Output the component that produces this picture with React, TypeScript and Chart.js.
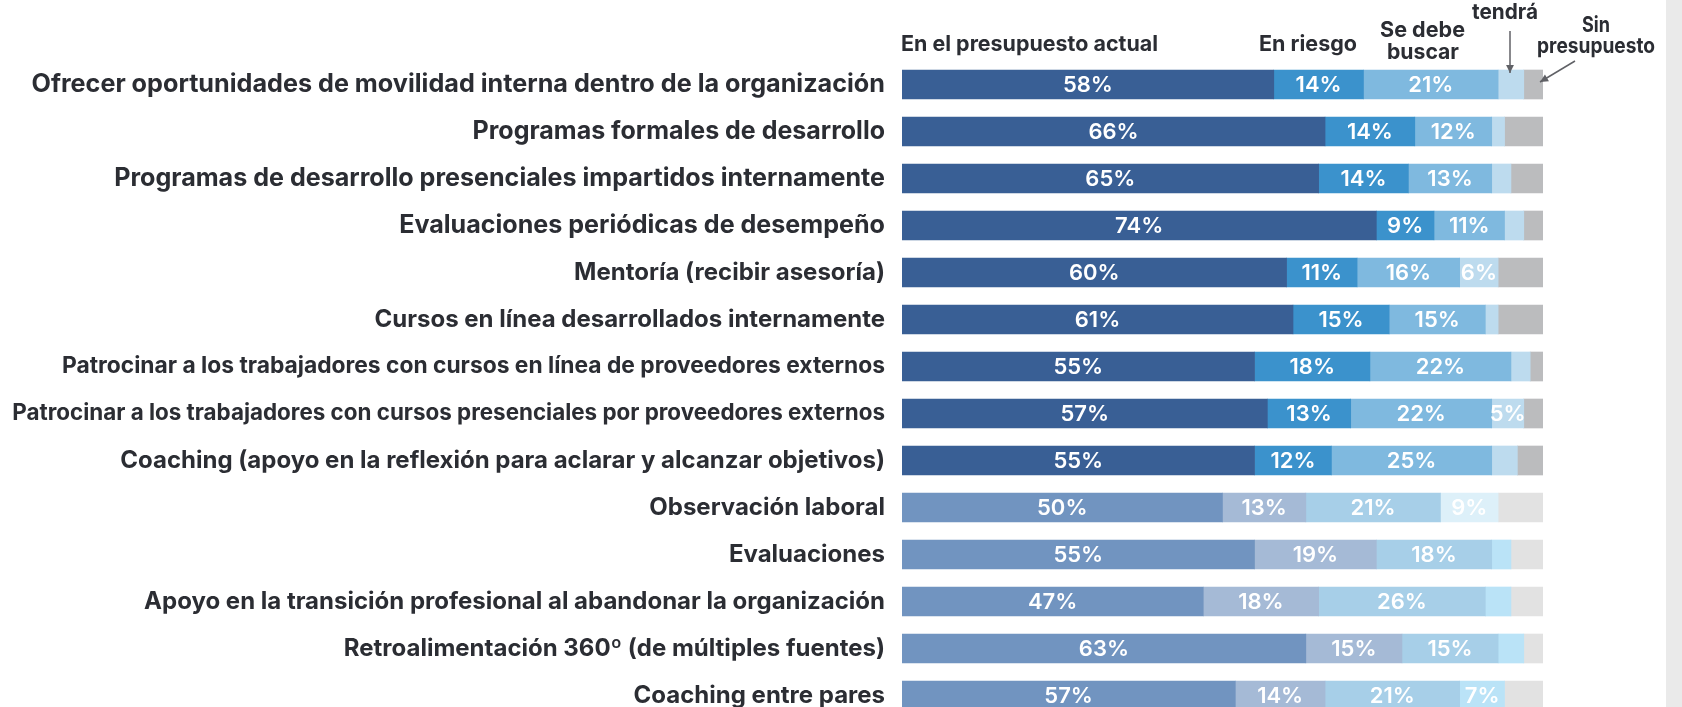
import React, { useEffect, useRef } from "react";
import { Chart, registerables } from "chart.js";

Chart.register(...registerables);

const categorias = [
  "Ofrecer oportunidades de movilidad interna dentro de la organización",
  "Programas formales de desarrollo",
  "Programas de desarrollo presenciales impartidos internamente",
  "Evaluaciones periódicas de desempeño",
  "Mentoría (recibir asesoría)",
  "Cursos en línea desarrollados internamente",
  "Patrocinar a los trabajadores con cursos en línea de proveedores externos",
  "Patrocinar a los trabajadores con cursos presenciales por proveedores externos",
  "Coaching (apoyo en la reflexión para aclarar y alcanzar objetivos)",
  "Observación laboral",
  "Evaluaciones",
  "Apoyo en la transición profesional al abandonar la organización",
  "Retroalimentación 360º (de múltiples fuentes)",
  "Coaching entre pares",
];

// grupo 1 = tonos intensos, grupo 2 = tonos suaves
const grupo = [1, 1, 1, 1, 1, 1, 1, 1, 1, 2, 2, 2, 2, 2];

const enPresupuesto = [58, 66, 65, 74, 60, 61, 55, 57, 55, 50, 55, 47, 63, 52];
const enRiesgo = [14, 14, 14, 9, 11, 15, 18, 13, 12, 13, 19, 18, 15, 14];
const seDebeBuscar = [21, 12, 13, 11, 16, 15, 22, 22, 25, 21, 18, 26, 15, 21];
const tendra = [4, 2, 3, 3, 6, 2, 3, 5, 4, 9, 3, 4, 4, 7];
const sinPresupuesto = [3, 6, 5, 3, 7, 7, 2, 3, 4, 7, 5, 5, 3, 6];

// Etiquetas tal como aparecen impresas
const etqPresupuesto = ["58%", "66%", "65%", "74%", "60%", "61%", "55%", "57%", "55%", "50%", "55%", "47%", "63%", "57%"];
const etqRiesgo = ["14%", "14%", "14%", "9%", "11%", "15%", "18%", "13%", "12%", "13%", "19%", "18%", "15%", "14%"];
const etqBuscar = ["21%", "12%", "13%", "11%", "16%", "15%", "22%", "22%", "25%", "21%", "18%", "26%", "15%", "21%"];
const etqTendra = ["", "", "", "", "6%", "", "", "5%", "", "9%", "", "", "", "7%"];
const etqSin = ["", "", "", "", "", "", "", "", "", "", "", "", "", ""];

// estilo
const tamCategoria = [25.2, 25, 25.1, 25.1, 24, 24, 22.8, 22.4, 24, 24, 24, 24, 24, 24];
const coloresPresupuesto = { 1: "#395f95", 2: "#7194c0" };
const coloresRiesgo = { 1: "#3b92cc", 2: "#a5bad6" };
const coloresBuscar = { 1: "#7fb9df", 2: "#a7cfe8" };
const coloresTendra1 = "#bddbee";
const coloresTendra2 = ["#ddf0f9", "#bae3f7", "#bae3f7", "#bae3f7", "#bae3f7"];
const coloresSin = { 1: "#bbbcbe", 2: "#e2e2e2" };

const TXT = "#2b2d33";
const FONT = "Inter, 'Noto Sans', sans-serif";

const labelsPlugin = {
  id: "valueLabels",
  afterDatasetsDraw(chart: any) {
    const ctx = chart.ctx;
    ctx.save();
    ctx.font = `600 22px ${FONT}`;
    ctx.fillStyle = "#ffffff";
    ctx.textAlign = "center";
    ctx.textBaseline = "middle";
    chart.data.datasets.forEach((ds: any, di: number) => {
      const meta = chart.getDatasetMeta(di);
      meta.data.forEach((bar: any, i: number) => {
        const t = ds.etiquetas[i];
        if (!t) return;
        const cx = (bar.x + bar.base) / 2;
        ctx.fillText(t, cx, bar.y + 1);
      });
    });
    ctx.restore();
  },
};

function arrow(ctx: any, x1: number, y1: number, x2: number, y2: number) {
  ctx.beginPath();
  ctx.moveTo(x1, y1);
  ctx.lineTo(x2, y2);
  ctx.stroke();
  const a = Math.atan2(y2 - y1, x2 - x1);
  const L = 9;
  const w = 0.45;
  ctx.beginPath();
  ctx.moveTo(x2, y2);
  ctx.lineTo(x2 - L * Math.cos(a - w), y2 - L * Math.sin(a - w));
  ctx.lineTo(x2 - L * Math.cos(a + w), y2 - L * Math.sin(a + w));
  ctx.closePath();
  ctx.fill();
}

function fitText(ctx: any, t: string, left: number, base: number, w: number) {
  const m = ctx.measureText(t).width;
  ctx.save();
  ctx.translate(left, base);
  ctx.scale(w / m, 1);
  ctx.fillText(t, 0, 0);
  ctx.restore();
}

const headerPlugin = {
  id: "headers",
  afterDraw(chart: any) {
    const ctx = chart.ctx;
    const x0 = chart.scales.x.getPixelForValue(0);
    ctx.save();
    ctx.fillStyle = TXT;
    ctx.font = `700 21.5px ${FONT}`;
    ctx.textBaseline = "alphabetic";
    ctx.textAlign = "left";
    fitText(ctx, "En el presupuesto actual", x0 - 1, 51, 257);
    fitText(ctx, "En riesgo", x0 + 357, 51, 98);
    fitText(ctx, "Se debe", x0 + 478, 37, 85);
    fitText(ctx, "buscar", x0 + 485, 59, 72);
    fitText(ctx, "tendrá", x0 + 570, 19, 66);
    fitText(ctx, "Sin", x0 + 680, 32, 28);
    fitText(ctx, "presupuesto", x0 + 635, 53, 118);
    ctx.strokeStyle = "#606166";
    ctx.fillStyle = "#606166";
    ctx.lineWidth = 1.5;
    arrow(ctx, x0 + 608, 31, x0 + 608, 73);
    arrow(ctx, x0 + 673, 61, x0 + 638, 82);
    ctx.restore();
  },
};

export default function App() {
  const ref = useRef<HTMLCanvasElement | null>(null);

  useEffect(() => {
    if (!ref.current) return;
    const ds = (
      label: string,
      data: number[],
      etiquetas: string[],
      colors: string[]
    ) => ({
      label,
      data,
      etiquetas,
      backgroundColor: colors,
      borderWidth: 0,
      barThickness: 29,
    });
    let k2 = 0;
    const tendraColors = grupo.map((g) => (g === 1 ? coloresTendra1 : coloresTendra2[k2++]));
    const chart = new Chart(ref.current, {
      type: "bar",
      data: {
        labels: categorias,
        datasets: [
          ds("En el presupuesto actual", enPresupuesto, etqPresupuesto, grupo.map((g) => (coloresPresupuesto as any)[g])),
          ds("En riesgo", enRiesgo, etqRiesgo, grupo.map((g) => (coloresRiesgo as any)[g])),
          ds("Se debe buscar", seDebeBuscar, etqBuscar, grupo.map((g) => (coloresBuscar as any)[g])),
          ds("tendrá", tendra, etqTendra, tendraColors),
          ds("Sin presupuesto", sinPresupuesto, etqSin, grupo.map((g) => (coloresSin as any)[g])),
        ] as any,
      },
      options: {
        responsive: true,
        maintainAspectRatio: false,
        animation: false,
        indexAxis: "y",
        layout: { padding: { top: 61, bottom: 11, left: 0, right: 139 } },
        plugins: { legend: { display: false }, tooltip: { enabled: false } },
        scales: {
          x: { stacked: true, min: 0, max: 100, display: false },
          y: {
            stacked: true,
            grid: { display: false, drawTicks: false },
            border: { display: false },
            ticks: {
              color: TXT,
              padding: 17,
              autoSkip: false,
              font: (c: any) => ({
                family: FONT,
                size: tamCategoria[c.index] ?? 24,
                weight: "700",
              }),
            },
            afterFit: (scale: any) => {
              scale.width = 902;
              scale.paddingTop = 0;
              scale.paddingBottom = 0;
            },
          },
        },
      } as any,
      plugins: [labelsPlugin, headerPlugin],
    });
    return () => chart.destroy();
  }, []);

  return (
    <div
      style={{
        position: "absolute",
        left: 0,
        top: 0,
        width: 1682,
        height: 707,
        overflow: "hidden",
        background: "#ffffff",
      }}
    >
      <div style={{ position: "relative", width: 1682, height: 730 }}>
        <canvas ref={ref} />
      </div>
      <div
        style={{
          position: "absolute",
          left: 1666,
          top: 0,
          width: 16,
          height: 707,
          background: "#eaeaea",
        }}
      />
    </div>
  );
}
